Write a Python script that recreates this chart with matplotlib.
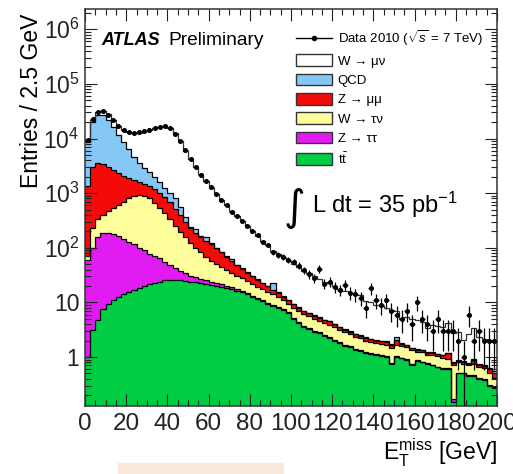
import numpy as np
import matplotlib
matplotlib.use("Agg")
import matplotlib.pyplot as plt
from matplotlib.patches import Patch, Rectangle
from matplotlib.lines import Line2D
from matplotlib.ticker import LogLocator, FuncFormatter, MultipleLocator

plt.rcParams['font.family'] = ['Liberation Sans', 'DejaVu Sans']
plt.rcParams['mathtext.fontset'] = 'custom'
plt.rcParams['mathtext.rm'] = 'Liberation Sans'
plt.rcParams['mathtext.it'] = 'Liberation Sans:italic'
plt.rcParams['mathtext.bf'] = 'Liberation Sans:bold'

# E_T^miss bins, 2.5 GeV wide, 0 - 200 GeV
bin_width = 2.5
edges = np.arange(0, 200 + bin_width, bin_width)

# events per bin for each process
ttbar = [1.0, 3.1, 4.8, 7.5, 9.5, 11, 12.5, 14, 15.5, 17,
         18.5, 20, 21.5, 23, 24, 25.5, 26, 26, 25.5, 25,
         24, 23.5, 22.5, 22, 21, 20, 19.5, 18.5, 17.5, 16.5,
         15.5, 14, 12.5, 11.5, 10.5, 9.5, 8.7, 8.0, 7.2, 6.3,
         5.0, 4.2, 3.5, 3.2, 2.9, 2.7, 2.4, 2.2, 2.0, 1.8,
         1.6, 1.5, 1.35, 1.3, 1.2, 1.15, 1.1, 1.05, 1.0, 0.75,
         1.0, 0.95, 0.9, 0.7, 0.85, 0.8, 0.75, 0.7, 0.65, 0.6,
         0.6, 0.15, 0.5, 0.5, 0.45, 0.45, 0.4, 0.38, 0.3, 0.27]
ztautau = [59, 97, 152, 178, 175, 164, 152, 131, 114, 98,
           81, 70, 57, 47, 41, 30, 22, 17, 11.5, 9,
           7, 5.5, 4.5, 3.5, 3, 2.5, 2, 1.6, 1.3, 1.1,
           0.9, 0.7, 0.6, 0.5, 0.45, 0.4, 0.35, 0.3, 0.28, 0.25,
           0.2, 0.18, 0.16, 0.15, 0.14, 0.12, 0.1, 0.1, 0.09, 0.08,
           0.07, 0.07, 0.06, 0.06, 0.05, 0.05, 0.05, 0.04, 0.04, 0.04,
           0.03, 0.03, 0.03, 0.03, 0.03, 0.02, 0.02, 0.02, 0.02, 0.02,
           0.02, 0.02, 0.02, 0.02, 0.02, 0.02, 0.02, 0.01, 0.01, 0.01]
wtaunu = [10, 130, 173, 215, 285, 365, 445, 545, 670, 765,
          820, 800, 720, 600, 475, 375, 287, 212, 158, 121,
          91, 71, 55, 42.5, 33, 27.5, 22.6, 18.7, 16.2, 13.4,
          11.7, 10.3, 8.9, 7.5, 6.55, 5.6, 4.95, 4.2, 3.5, 2.95,
          2.8, 2.6, 2.35, 2.25, 1.95, 1.8, 1.7, 1.6, 1.4, 1.2,
          1.15, 1.05, 0.9, 0.85, 0.75, 0.7, 0.65, 0.65, 0.65, 0.7,
          0.62, 0.62, 0.57, 0.62, 0.37, 0.41, 0.31, 0.36, 0.36, 0.35,
          0.3, 0.55, 0.29, 0.24, 0.24, 0.28, 0.23, 0.24, 0.19, 0.14]
zmumu = [1280, 2770, 3170, 3000, 2530, 2060, 1690, 1410, 1100, 870,
         680, 610, 550, 530, 460, 420, 345, 265, 205, 145,
         108, 85, 73, 67, 61, 48, 38, 29, 22, 17,
         13, 10, 8, 6.5, 5, 4.3, 3.2, 2.5, 1.8, 1.5,
         1.3, 1.0, 0.9, 0.8, 0.7, 0.6, 0.5, 0.6, 0.45, 0.4,
         0.35, 0.3, 0.3, 0.25, 0.25, 0.2, 0.2, 0.2, 0.2, 0.2,
         0.4, 0.15, 0.15, 0.1, 0.1, 0.1, 0.1, 0.1, 0.1, 0.1,
         0.25, 0.05, 0.05, 0.05, 0.05, 0.15, 0.05, 0.05, 0.1, 0.1]
qcd = [7350, 17000, 23500, 23600, 19000, 13400, 9200, 6700, 4600, 2850,
       2000, 1400, 1050, 800, 600, 400, 320, 280, 150, 60,
       15, 40, 8, 25, 3, 2, 2, 1.5, 6, 1,
       1, 0.8, 0.7, 0.6, 0.5, 0.5, 5, 0.4, 0.3, 0.2,
       0.2, 0.15, 0.15, 0.1, 0.1, 0.1, 0.1, 0.1, 0.08, 0.08,
       0.08, 0.05, 0.05, 0.05, 0.05, 0.05, 0.05, 0.05, 0.05, 0.05,
       0.3, 0.03, 0.03, 0.03, 0.03, 0.03, 0.03, 0.03, 0.03, 0.03,
       0.03, 0.03, 0.03, 0.03, 0.03, 0.03, 0.03, 0.03, 0.03, 0.03]
wmunu = [600, 2000, 3000, 4500, 6000, 6000, 5500, 5700, 6500, 7900,
         9200, 10600, 12100, 13500, 14900, 15550, 14500, 11700, 8450, 5640,
         3955, 2775, 2037, 1540, 1129, 850, 666, 530, 407, 331,
         268, 214, 174, 138, 112, 90, 66, 60, 53, 47,
         41, 36, 31, 28, 24, 22, 19, 18, 16, 14,
         13, 12, 11, 11, 8.5, 8, 7, 6.5, 6, 5.5,
         4.5, 3.2, 3.8, 3.5, 3.4, 3.0, 2.2, 2.7, 2.6, 2.4,
         3.0, 2.0, 2.0, 1.2, 1.8, 2.4, 1.6, 1.4, 1.4, 1.3]
data = [9200, 22500, 30500, 31800, 27500, 21800, 17200, 14300, 13100, 12600,
        12900, 13600, 14400, 15600, 16400, 16900, 15400, 12300, 9100, 6100,
        4150, 3050, 2180, 1680, 1270, 960, 740, 610, 460, 385,
        305, 255, 200, 170, 130, 112, 83, 74, 68, 60,
        55, 47, 39, 33, 28, 41, 22, 24, 19, 17,
        21, 15, 14, 12, 8, 18, 11, 9, 11, 7,
        6, 5, 7, 4, 10, 5, 4, 3, 5, 3,
        3, 3, 2, 1, 6, 2, 3, 2, 2, 2]

layers = [ttbar, ztautau, wtaunu, zmumu, qcd, wmunu]
names = ['t$\\bar{\\mathrm{t}}$', 'Z \u2192 \u03c4\u03c4', 'W \u2192 \u03c4\u03bd',
         'Z \u2192 \u03bc\u03bc', 'QCD', 'W \u2192 \u03bc\u03bd']
colors = ['#00cc44', '#e01cf2', '#fdfd9a', '#f50a0a', '#86c8f5', 'white']

fig = plt.figure(figsize=(5.13, 4.74), dpi=100)
ax = fig.add_axes([0.1657, 0.1435, 0.8031, 0.8365])

stack = np.cumsum(np.array(layers, dtype=float), axis=0)
prev = np.full(len(edges) - 1, 1e-3)
for k in range(len(layers)):
    ax.stairs(stack[k], edges, baseline=prev, fill=True, color=colors[k], lw=0)
    prev = stack[k]
for k in range(len(layers)):
    ax.stairs(stack[k], edges, baseline=None, color='#333333' if k == 5 else 'black', lw=0.9)

centers = 0.5 * (edges[:-1] + edges[1:])
d = np.array(data, dtype=float)
ax.errorbar(centers, d, yerr=np.sqrt(d), xerr=bin_width / 2, fmt='o', ms=2.6,
            color='black', lw=0.9, capsize=0, zorder=5)

ax.set_yscale('log')
ax.set_xlim(0, 200)
ax.set_ylim(0.127, 2.3e6)

ax.xaxis.set_major_locator(MultipleLocator(20))
ax.xaxis.set_minor_locator(MultipleLocator(5))
ax.yaxis.set_major_locator(LogLocator(base=10, numticks=12))
ax.yaxis.set_minor_locator(LogLocator(base=10, subs=np.arange(2, 10), numticks=12))


def ylab(v, pos):
    e = int(round(np.log10(v)))
    if e == 0:
        return '1'
    if e == 1:
        return '10'
    return '$10^{%d}$' % e


ax.yaxis.set_major_formatter(FuncFormatter(ylab))
ax.tick_params(which='both', direction='in', top=True, right=True, width=0.8, colors='#222222')
ax.tick_params(which='major', length=8.5, pad=5)
ax.tick_params(axis='x', which='major', labelsize=17.5)
ax.tick_params(axis='y', which='major', labelsize=16.5, pad=4)
ax.tick_params(which='minor', length=4.3)
for s in ax.spines.values():
    s.set_linewidth(1.1)
    s.set_color('#333333')

ax.set_ylabel('Entries / 2.5 GeV', fontsize=16.5, loc='top')
ax.yaxis.set_label_coords(-0.102, 0.99)
ax.set_xlabel('E$_{\\mathrm{T}}^{\\mathrm{miss}}$ [GeV]', fontsize=16.5, loc='right', labelpad=1)

ax.text(0.039, 0.923, 'ATLAS', transform=ax.transAxes, fontsize=13,
        fontweight='bold', style='italic', va='center')
ax.text(0.202, 0.923, 'Preliminary', transform=ax.transAxes, fontsize=13.8, va='center')
ax.text(0.483, 0.50, '\u222b', transform=ax.transAxes, fontsize=30,
        family='DejaVu Sans', va='center')
ax.text(0.551, 0.507, 'L dt = 35 pb$^{-1}$', transform=ax.transAxes, fontsize=17, va='center')

handles = [Line2D([], [], color='black', marker='o', ms=3, lw=1)]
labels = ['Data 2010 ($\\sqrt{s}$ = 7 TeV)']
for k in range(len(layers) - 1, -1, -1):
    handles.append(Patch(facecolor=colors[k], edgecolor='#333333', lw=1))
    labels.append(names[k])
ax.legend(handles, labels, loc='upper left', bbox_to_anchor=(0.512, 0.952),
          frameon=False, fontsize=9.5, handlelength=2.7, handleheight=1.0,
          labelspacing=0.45, handletextpad=0.45, borderpad=0, borderaxespad=0)

fig.patches.append(Rectangle((118 / 513, 0), 165 / 513, 11 / 474,
                             transform=fig.transFigure, color='#fbe8dc', zorder=-1))

fig.savefig('out.png', dpi=100)
